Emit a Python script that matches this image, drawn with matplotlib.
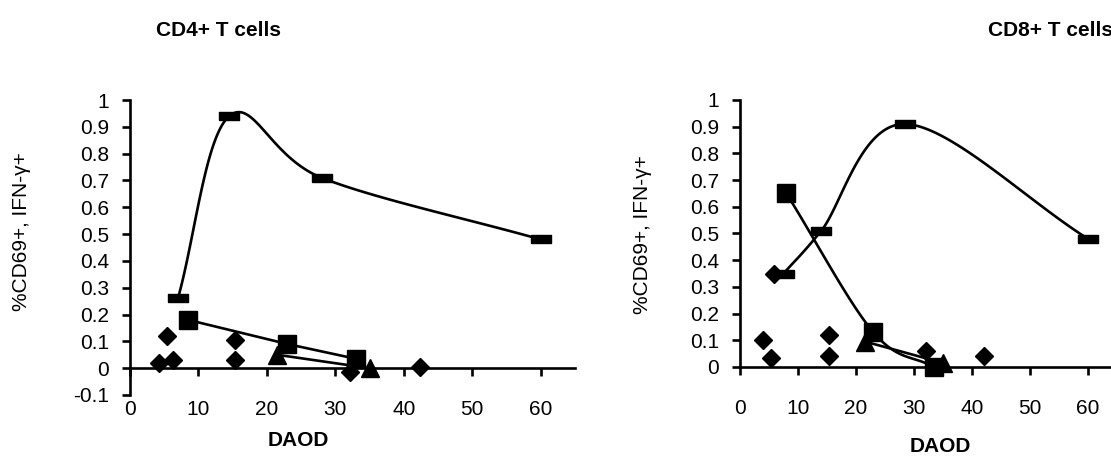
import numpy as np
import matplotlib
matplotlib.use("Agg")
import matplotlib.pyplot as plt

plt.rcParams['font.family'] = ['Liberation Sans', 'DejaVu Sans']

# CD4+ T cells (left panel)
cd4_dash_x = [7, 14.5, 28, 60]
cd4_dash_y = [0.26, 0.94, 0.71, 0.48]
cd4_sq_x = [8.5, 23, 33]
cd4_sq_y = [0.18, 0.09, 0.035]
cd4_tri_x = [21.5, 35]
cd4_tri_y = [0.05, 0.0]
cd4_dia_x = [4.2, 5.4, 6.3, 15.4, 15.4, 32.1, 42.3]
cd4_dia_y = [0.02, 0.12, 0.03, 0.105, 0.03, -0.015, 0.005]

# CD8+ T cells (right panel)
cd8_dash_x = [7.5, 14, 28.5, 60]
cd8_dash_y = [0.35, 0.51, 0.91, 0.48]
cd8_sq_x = [8, 23, 33.4]
cd8_sq_y = [0.65, 0.13, 0.0]
cd8_tri_x = [21.6, 35]
cd8_tri_y = [0.095, 0.015]
cd8_dia_x = [4, 5.3, 5.9, 15.3, 15.3, 32, 42.1]
cd8_dia_y = [0.1, 0.034, 0.35, 0.12, 0.04, 0.06, 0.04]

x_ticks = [0, 10, 20, 30, 40, 50, 60]


def smooth(x, y, n=40):
    # catmull-rom through the points, like excel's smoothed line
    x = np.asarray(x, float)
    y = np.asarray(y, float)
    px = np.concatenate([[2 * x[0] - x[1]], x, [2 * x[-1] - x[-2]]])
    py = np.concatenate([[2 * y[0] - y[1]], y, [2 * y[-1] - y[-2]]])
    xs, ys = [], []
    t = np.linspace(0, 1, n)
    for i in range(1, len(px) - 2):
        for p, out in ((px, xs), (py, ys)):
            p0, p1, p2, p3 = p[i - 1], p[i], p[i + 1], p[i + 2]
            out.extend(0.5 * (2 * p1 + (-p0 + p2) * t
                              + (2 * p0 - 5 * p1 + 4 * p2 - p3) * t ** 2
                              + (-p0 + 3 * p1 - 3 * p2 + p3) * t ** 3))
    return xs, ys


bar = [(-1.25, -0.5), (1.25, -0.5), (1.25, 0.5), (-1.25, 0.5), (-1.25, -0.5)]
LW = 1.9

fig = plt.figure(figsize=(11.11, 4.59), dpi=100)
ax1 = fig.add_axes([130 / 1111, 1 - 395 / 459, 445 / 1111, 295 / 459])
ax2 = fig.add_axes([740 / 1111, 1 - 367 / 459, 377 / 1111, 267 / 459])

panels = [
    (ax1, cd4_dash_x, cd4_dash_y, cd4_sq_x, cd4_sq_y, cd4_tri_x, cd4_tri_y,
     cd4_dia_x, cd4_dia_y, -0.1, False),
    (ax2, cd8_dash_x, cd8_dash_y, cd8_sq_x, cd8_sq_y, cd8_tri_x, cd8_tri_y,
     cd8_dia_x, cd8_dia_y, 0.0, True),
]

for ax, dx, dy, sx, sy, tx, ty, ix, iy, ymin, smooth_sq in panels:
    lx, ly = smooth(dx, dy)
    ax.plot(lx, ly, color='k', lw=LW, clip_on=False)
    ax.plot(dx, dy, ls='none', marker=bar, ms=15, color='k', clip_on=False)
    if smooth_sq:
        qx, qy = smooth(sx, sy)
    else:
        qx, qy = sx, sy
    ax.plot(qx, qy, color='k', lw=LW, clip_on=False)
    ax.plot(sx, sy, ls='none', marker='s', ms=12.5, color='k', clip_on=False)
    ax.plot(tx, ty, color='k', lw=LW, marker='^', ms=13, clip_on=False)
    ax.plot(ix, iy, ls='none', marker='D', ms=9.5, color='k', clip_on=False)

    ax.set_xlim(0, 65)
    ax.set_ylim(ymin, 1)
    ax.spines['top'].set_visible(False)
    ax.spines['right'].set_visible(False)
    ax.spines['bottom'].set_position(('data', 0))
    ax.spines['left'].set_linewidth(LW)
    ax.spines['bottom'].set_linewidth(LW)
    ax.set_xticks(x_ticks)
    yt = np.round(np.arange(ymin, 1.001, 0.1), 1)
    ax.set_yticks(yt)
    ax.set_yticklabels(['%g' % v for v in yt])
    ax.tick_params(axis='y', direction='out', length=6, width=LW, labelsize=15, pad=9)
    ax.tick_params(axis='x', direction='out', length=6, width=LW, labelsize=15, pad=17)
    ax.patch.set_alpha(0)

fig.text(218 / 1111, 1 - 30 / 459, 'CD4+ T cells', ha='center', va='center',
         fontsize=15, fontweight='bold')
fig.text(1050 / 1111, 1 - 30 / 459, 'CD8+ T cells', ha='center', va='center',
         fontsize=15, fontweight='bold')
fig.text(298 / 1111, 1 - 441 / 459, 'DAOD', ha='center', va='center',
         fontsize=15, fontweight='bold')
fig.text(940 / 1111, 1 - 446 / 459, 'DAOD', ha='center', va='center',
         fontsize=15, fontweight='bold')
fig.text(22 / 1111, 1 - 232 / 459, '%CD69+, IFN-γ+', ha='center', va='center',
         rotation=90, fontsize=15)
fig.text(643 / 1111, 1 - 235 / 459, '%CD69+, IFN-γ+', ha='center', va='center',
         rotation=90, fontsize=15)

fig.savefig('out.png', dpi=100)
